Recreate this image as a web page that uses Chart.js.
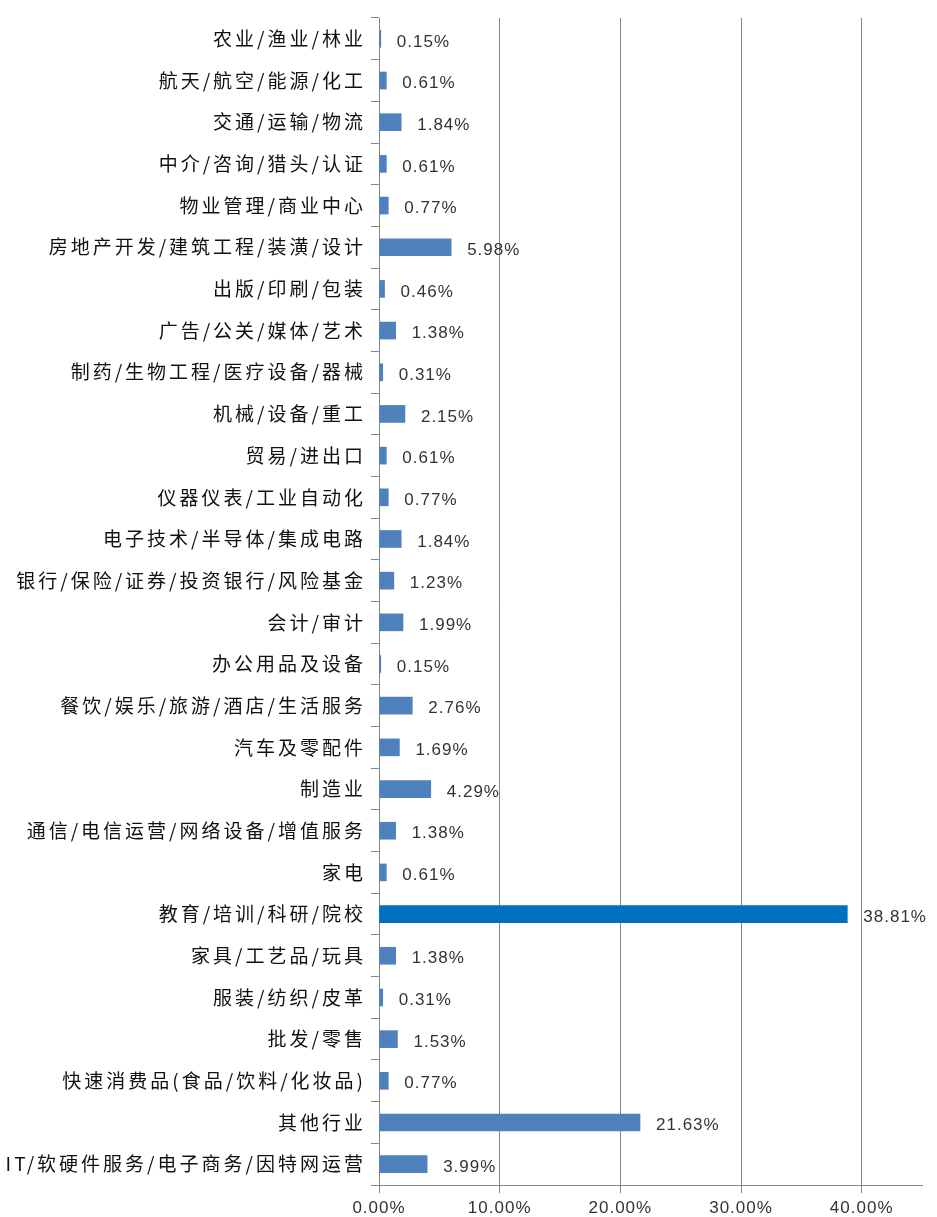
<!DOCTYPE html>
<html>
<head>
<meta charset="utf-8">
<script src="https://cdn.jsdelivr.net/npm/chart.js@4"></script>
<style>
  html, body { margin: 0; padding: 0; background: #fff; }
  #wrap { width: 937px; height: 1217px; }
</style>
</head>
<body>
<div id="wrap"><canvas id="industryChart" width="937" height="1217"></canvas></div>
<script>
// industries, top to bottom as in the picture
const industries = [
    '农业/渔业/林业', '航天/航空/能源/化工', '交通/运输/物流', '中介/咨询/猎头/认证',
    '物业管理/商业中心', '房地产开发/建筑工程/装潢/设计', '出版/印刷/包装', '广告/公关/媒体/艺术',
    '制药/生物工程/医疗设备/器械', '机械/设备/重工', '贸易/进出口', '仪器仪表/工业自动化',
    '电子技术/半导体/集成电路', '银行/保险/证券/投资银行/风险基金', '会计/审计', '办公用品及设备',
    '餐饮/娱乐/旅游/酒店/生活服务', '汽车及零配件', '制造业', '通信/电信运营/网络设备/增值服务',
    '家电', '教育/培训/科研/院校', '家具/工艺品/玩具', '服装/纺织/皮革',
    '批发/零售', '快速消费品(食品/饮料/化妆品)', '其他行业', 'IT/软硬件服务/电子商务/因特网运营'
];
const shares = [
    0.15, 0.61, 1.84, 0.61,
    0.77, 5.98, 0.46, 1.38,
    0.31, 2.15, 0.61, 0.77,
    1.84, 1.23, 1.99, 0.15,
    2.76, 1.69, 4.29, 1.38,
    0.61, 38.81, 1.38, 0.31,
    1.53, 0.77, 21.63, 3.99
];
const xTicks = [0, 10, 20, 30, 40];
const highlight = '教育/培训/科研/院校';

const BLUE = '#4f81bd';
const DARK_BLUE = '#0070c0';
const AXIS_GREY = '#868686';
const NUM_FONT = '17px "Liberation Sans"';

// canvas letter spacing is reset whenever the canvas is resized, so set it again each pass.
// category labels get the wide spacing, numbers a narrow one (x tick labels are drawn after the bars)
const spacing = {
    id: 'spacing',
    beforeUpdate(chart) { chart.ctx.letterSpacing = '3px'; },
    beforeDraw(chart) { chart.ctx.letterSpacing = '3px'; },
    afterDatasetsDraw(chart) { chart.ctx.letterSpacing = '1px'; }
};

// value labels right of each bar
const valueLabels = {
    id: 'valueLabels',
    afterDatasetsDraw(chart) {
        const ctx = chart.ctx;
        const meta = chart.getDatasetMeta(0);
        ctx.save();
        ctx.letterSpacing = '1px';
        ctx.font = NUM_FONT;
        ctx.fillStyle = '#333';
        ctx.textAlign = 'left';
        ctx.textBaseline = 'middle';
        meta.data.forEach((bar, i) => {
            ctx.fillText(shares[i].toFixed(2) + '%', bar.x + 16, bar.y + 3);
        });
        ctx.restore();
    }
};

new Chart(document.getElementById('industryChart'), {
    type: 'bar',
    data: {
        labels: industries,
        datasets: [{
            data: shares,
            backgroundColor: industries.map(c => c === highlight ? DARK_BLUE : BLUE),
            barThickness: 17,
            borderWidth: 0
        }]
    },
    options: {
        indexAxis: 'y',
        responsive: false,
        animation: false,
        layout: { padding: { top: 18, right: 15, left: 0, bottom: 0 } },
        plugins: { legend: { display: false }, tooltip: { enabled: false } },
        scales: {
            x: {
                min: 0,
                max: 45,
                ticks: {
                    z: 1,
                    stepSize: 10,
                    color: '#333',
                    padding: 5,
                    font: { family: 'Liberation Sans', size: 17 },
                    callback: v => v.toFixed(2) + '%'
                },
                afterBuildTicks: axis => {
                    axis.ticks = xTicks.map(v => ({ value: v }));
                },
                afterFit: axis => { axis.height = 32; },
                grid: {
                    color: c => c.tick && c.tick.value === 0 ? 'rgba(0,0,0,0)' : AXIS_GREY,
                    lineWidth: 1,
                    tickLength: 8,
                    tickColor: AXIS_GREY
                },
                border: { color: AXIS_GREY }
            },
            y: {
                ticks: {
                    color: '#111',
                    padding: 5,
                    autoSkip: false,
                    font: { family: 'Noto Sans CJK SC', size: 19 }
                },
                afterFit: axis => { axis.width = 379; },
                grid: {
                    offset: true,
                    drawOnChartArea: false,
                    tickLength: 8,
                    color: AXIS_GREY
                },
                border: { color: AXIS_GREY }
            }
        }
    },
    plugins: [spacing, valueLabels]
});
</script>
</body>
</html>
